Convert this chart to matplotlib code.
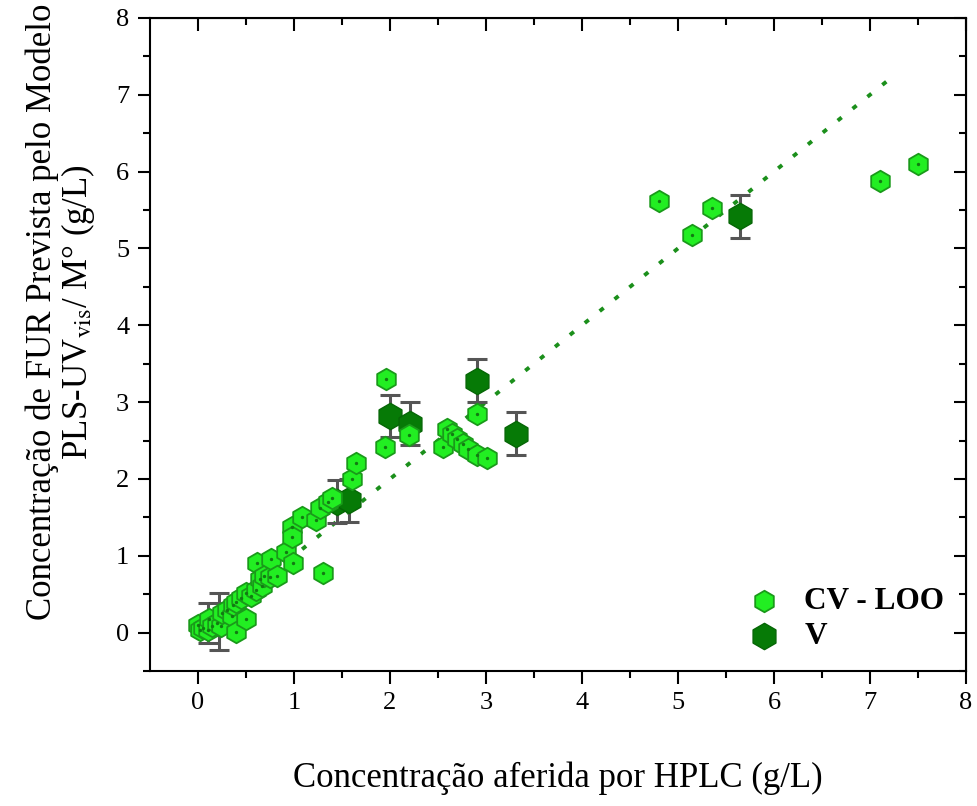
import matplotlib
matplotlib.use('Agg')
import matplotlib.pyplot as plt
import numpy as np

# CV - LOO predictions (HPLC, predicted)
cv_x = [0.00, 0.02, 0.05, 0.10, 0.12, 0.15, 0.20, 0.24, 0.25, 0.30,
        0.35, 0.36, 0.40, 0.40, 0.45, 0.50, 0.50, 0.55, 0.60, 0.61,
        0.65, 0.67, 0.69, 0.75, 0.76, 0.82, 0.92, 0.98, 0.98, 0.99,
        1.08, 1.23, 1.27, 1.30, 1.35, 1.40, 1.60, 1.65, 1.95, 1.96,
        2.20, 2.55, 2.59, 2.65, 2.70, 2.76, 2.81, 2.91, 2.91, 3.01,
        4.80, 5.15, 5.35, 7.10, 7.50]
cv_y = [0.10, 0.03, 0.06, 0.04, 0.18, 0.08, 0.12, 0.08, 0.26, 0.30,
        0.22, 0.36, 0.01, 0.40, 0.45, 0.18, 0.52, 0.47, 0.55, 0.91,
        0.70, 0.60, 0.73, 0.72, 0.96, 0.73, 1.05, 1.38, 1.25, 0.91,
        1.50, 1.47, 1.62, 0.78, 1.70, 1.75, 2.00, 2.21, 2.42, 3.30,
        2.57, 2.42, 2.65, 2.58, 2.52, 2.45, 2.39, 2.85, 2.31, 2.27,
        5.62, 5.17, 5.53, 5.88, 6.10]

# validation set with error bars
v_x = [0.10, 0.22, 1.45, 1.57, 2.00, 2.21, 2.91, 3.31, 5.65]
v_y = [0.13, 0.14, 1.70, 1.72, 2.82, 2.72, 3.28, 2.59, 5.42]
v_err = [0.26, 0.37, 0.28, 0.28, 0.27, 0.28, 0.28, 0.28, 0.28]

# ideal y = x line range
ideal_x = [0.0, 7.28]

plt.rcParams['font.family'] = ['Liberation Serif', 'DejaVu Serif']
plt.rcParams['mathtext.fontset'] = 'stix'

fig = plt.figure(figsize=(9.77, 8.06), dpi=100)
ax = fig.add_axes([0.1535, 0.1675, 0.8352, 0.8102])

ax.plot(ideal_x, ideal_x, linestyle=(0, (1.3, 3.6)), color='#1b8f1b', lw=2.8,
        zorder=1)

ax.errorbar(v_x, v_y, yerr=v_err, fmt='none', ecolor='#555555', elinewidth=2.2,
            capsize=7, capthick=2.2, zorder=2)
hv = ax.scatter(v_x, v_y, marker='h', s=360, color='#067a06',
                edgecolors='#056605', linewidths=1.0, zorder=3, label='V')
hcv = ax.scatter(cv_x, cv_y, marker='h', s=240, color='#22ee22',
                 edgecolors='#1a9a1a', linewidths=1.3, zorder=4, label='CV - LOO')
ax.scatter(cv_x, cv_y, marker='o', s=2, color='#127a12', zorder=5)

ax.set_xlim(-0.5, 8.0)
ax.set_ylim(-0.5, 8.0)
ax.set_xticks(np.arange(0, 9, 1))
ax.set_yticks(np.arange(0, 9, 1))
ax.set_xticks(np.arange(0.5, 8, 1), minor=True)
ax.set_yticks(np.arange(-0.5, 8, 1), minor=True)

ax.tick_params(which='both', direction='out', width=1.5, labelsize=19,
               top=False, right=False)
ax.tick_params(which='major', length=9, pad=6)
ax.tick_params(which='minor', length=5)
for s in ax.spines.values():
    s.set_linewidth(1.5)

# inward ticks on top and right
axt = ax.secondary_xaxis('top')
axt.set_xticks(np.arange(0, 9, 1))
axt.set_xticks(np.arange(0.5, 8, 1), minor=True)
axt.tick_params(which='both', direction='in', width=1.5, labeltop=False)
axt.tick_params(which='major', length=9)
axt.tick_params(which='minor', length=5)
axr = ax.secondary_yaxis('right')
axr.set_yticks(np.arange(0, 9, 1))
axr.set_yticks(np.arange(-0.5, 8, 1), minor=True)
axr.tick_params(which='both', direction='in', width=1.5, labelright=False)
axr.tick_params(which='major', length=9)
axr.tick_params(which='minor', length=5)

ax.set_xlabel('Concentração aferida por HPLC (g/L)', fontsize=25, labelpad=34)
ax.set_ylabel('Concentração de FUR Prevista pelo Modelo\n'
              r'PLS-UV$_{\mathrm{vis}}$/ M° (g/L)', fontsize=25,
              linespacing=1.0)
ax.yaxis.set_label_coords(-0.065, 0.55)

ax.legend(handles=[hcv, hv], loc='lower right', frameon=False,
          prop={'weight': 'bold', 'size': 22.5}, bbox_to_anchor=(1.008, -0.013),
          handletextpad=0.3, labelspacing=0.2, scatterpoints=1)

fig.savefig('out.png', dpi=100)
